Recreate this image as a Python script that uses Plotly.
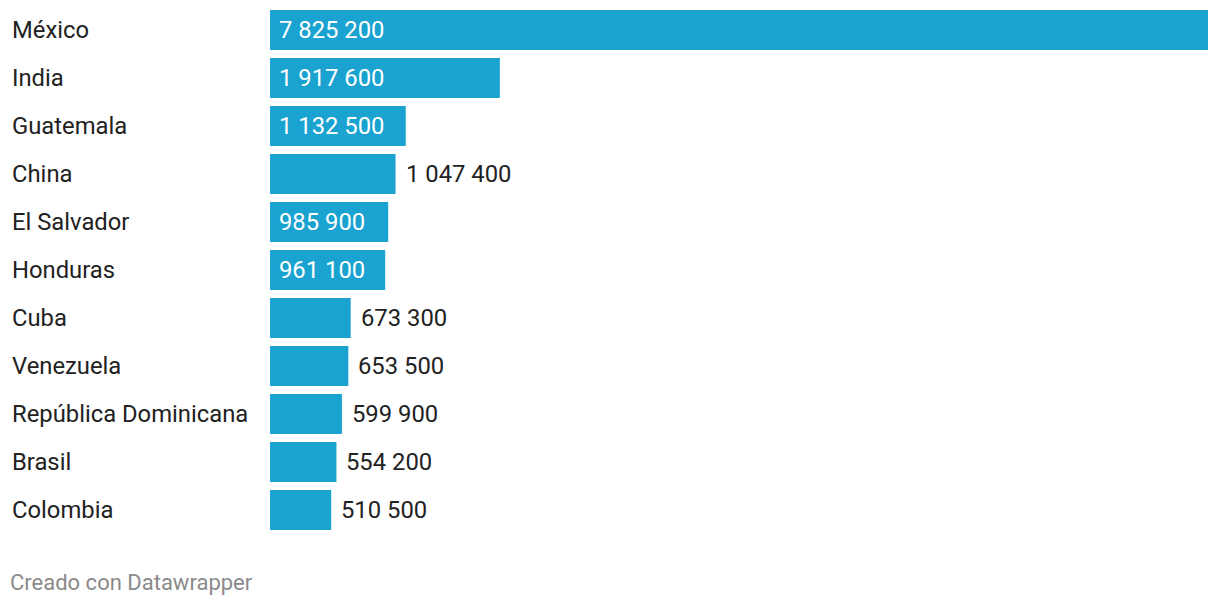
import plotly.graph_objects as go

countries = ["México", "India", "Guatemala", "China", "El Salvador", "Honduras",
             "Cuba", "Venezuela", "República Dominicana", "Brasil", "Colombia"]
values = [7825200, 1917600, 1132500, 1047400, 985900, 961100,
          673300, 653500, 599900, 554200, 510500]
label_inside = [True, True, True, False, True, True, False, False, False, False, False]

BAR = "#1aa3d0"
TXT = "#222222"
FONT = "Roboto"

def fmt(v):
    return f"{v:,}".replace(",", " ")

# page body has an 8px margin, so the figure is drawn offset by 8px
OFF = 8
W, H = 1220 - OFF, 606 - OFF
ml, mr, mt, mb = 0, 12, 0, 72
pw = W - ml - mr
ph = H - mt - mb
step = 48.0
top_val = -(30 - OFF) / step
bottom_val = top_val + ph / step

fig = go.Figure()
fig.add_trace(go.Bar(
    x=values, y=countries, orientation="h",
    marker=dict(color=BAR, line=dict(width=0)),
    hoverinfo="skip",
))

annotations = []
for c, v, ins in zip(countries, values, label_inside):
    annotations.append(dict(
        x=0 if ins else v, y=c, xref="x", yref="y",
        text=fmt(v), showarrow=False, xanchor="left", yanchor="middle",
        xshift=7 if ins else 8,
        font=dict(family=FONT, size=23.8, color="white" if ins else TXT),
    ))
    annotations.append(dict(
        x=(10 - OFF) / pw, y=c, xref="paper", yref="y",
        text=c, showarrow=False, xanchor="left", yanchor="middle",
        font=dict(family=FONT, size=23.8, color=TXT),
    ))
annotations.append(dict(
    x=(8 - OFF) / pw, y=1 - ((582 - OFF) - mt) / ph, xref="paper", yref="paper",
    text="Creado con Datawrapper", showarrow=False, xanchor="left", yanchor="middle",
    font=dict(family=FONT, size=22, color="#8a8a8a"),
))

fig.update_layout(
    width=W, height=H,
    margin=dict(l=ml, r=mr, t=mt, b=mb, pad=0),
    paper_bgcolor="white", plot_bgcolor="white",
    showlegend=False,
    bargap=8 / 48,
    xaxis=dict(domain=[(270 - OFF) / pw, 1], range=[0, max(values)], visible=False, fixedrange=True),
    yaxis=dict(range=[bottom_val, top_val], visible=False, fixedrange=True,
               categoryorder="array", categoryarray=countries),
    annotations=annotations,
)

fig.write_html("out.html", config={"displayModeBar": False})
